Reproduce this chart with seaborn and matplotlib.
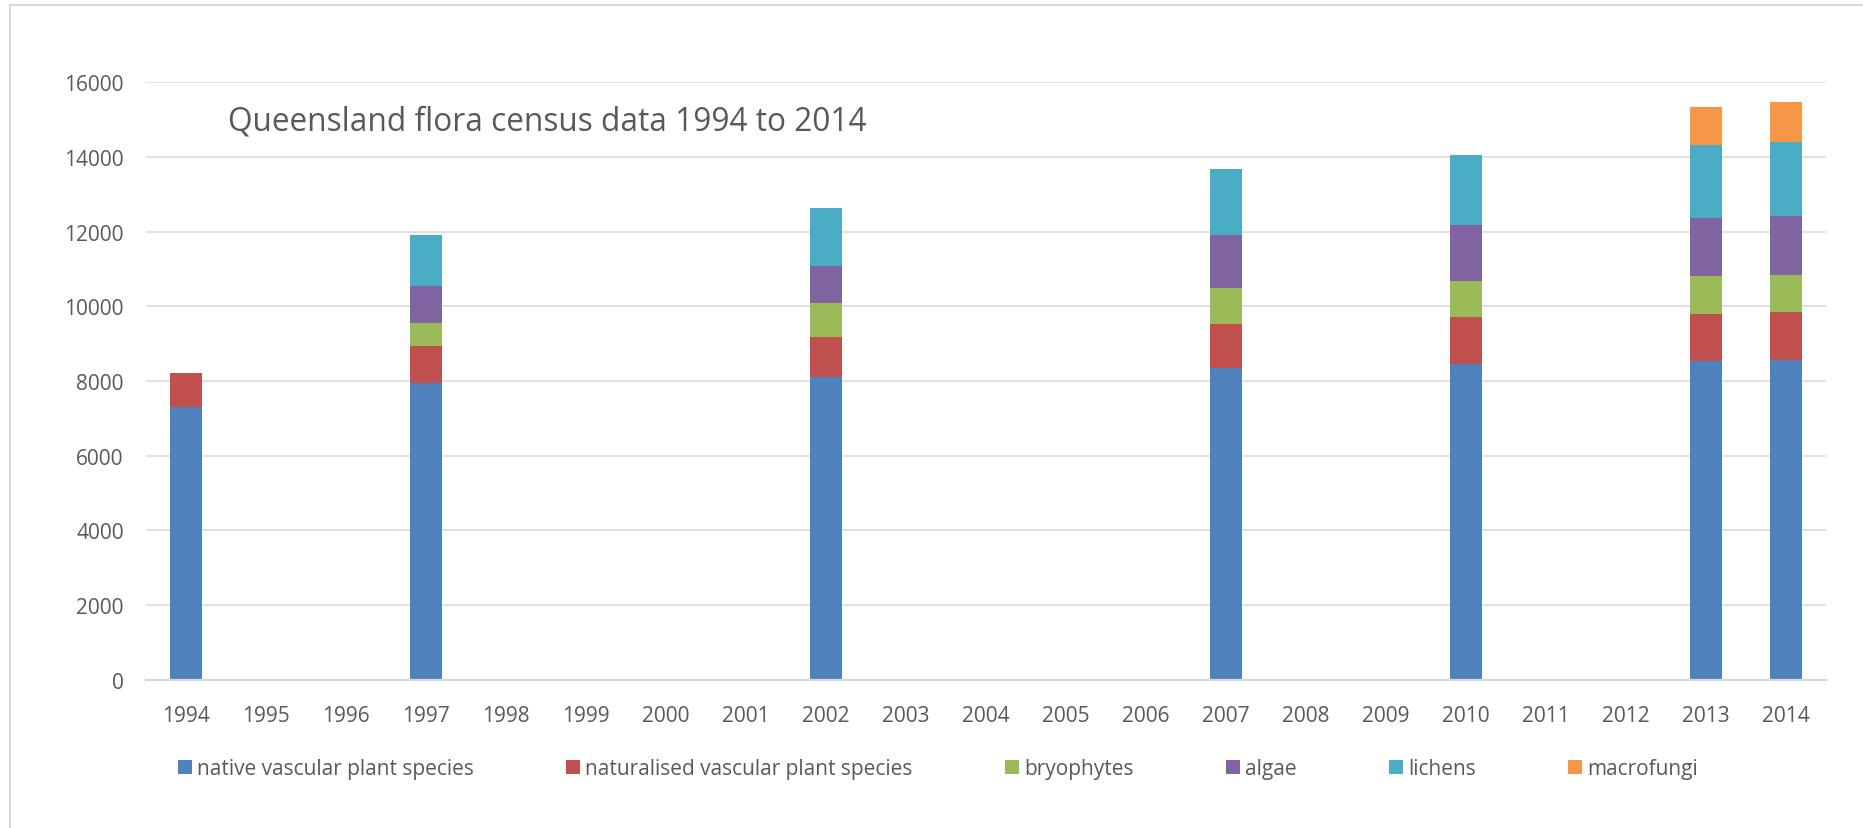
import matplotlib
matplotlib.use("Agg")
import matplotlib.pyplot as plt
from matplotlib.lines import Line2D
from matplotlib.patches import Patch
import numpy as np
import pandas as pd
import seaborn as sns

# census values (number of species)
all_years = [str(y) for y in range(1994, 2015)]
census_years = ["1994", "1997", "2002", "2007", "2010", "2013", "2014"]
native = [7300, 7940, 8100, 8345, 8450, 8530, 8570]
naturalised = [920, 1010, 1090, 1185, 1260, 1260, 1275]
bryophytes = [0, 610, 895, 970, 970, 1020, 1000]
algae = [0, 990, 1005, 1420, 1500, 1550, 1570]
lichens = [0, 1370, 1545, 1750, 1880, 1955, 1980]
macrofungi = [0, 0, 0, 0, 0, 1035, 1080]

groups = [
    "native vascular plant species",
    "naturalised vascular plant species",
    "bryophytes",
    "algae",
    "lichens",
    "macrofungi",
]
colors = ["#4F81BD", "#C0504D", "#9BBB59", "#8064A2", "#4BACC6", "#F79646"]
TEXT = "#595959"
GRID = "#D9D9D9"

sns.set_style("white")
plt.rcParams["font.family"] = ["Open Sans", "DejaVu Sans"]

df = pd.DataFrame(
    {
        "year": census_years,
        groups[0]: native,
        groups[1]: naturalised,
        groups[2]: bryophytes,
        groups[3]: algae,
        groups[4]: lichens,
        groups[5]: macrofungi,
    }
)
cum = df[groups].cumsum(axis=1)
cum["year"] = df["year"]

fig = plt.figure(figsize=(18.63, 8.29), dpi=100)
ax = fig.add_axes([146 / 1863, 1 - 680.7 / 829, 1680 / 1863, (680.7 - 83.3) / 829])

# stacked look: draw cumulative totals from top layer down
for name, col in reversed(list(zip(groups, colors))):
    sns.barplot(data=cum, x="year", y=name, order=all_years, color=col,
                width=0.4, errorbar=None, linewidth=0, saturation=1, ax=ax)

ax.set_ylim(0, 16000)
ax.set_xlim(-0.5, 20.5)
ax.set_yticks(np.arange(0, 16001, 2000))
ax.set_xlabel("")
ax.set_ylabel("")
ax.yaxis.grid(True, color=GRID, linewidth=1.1)
ax.set_axisbelow(True)
for s in ["left", "right", "top"]:
    ax.spines[s].set_visible(False)
ax.spines["bottom"].set_color(GRID)
ax.spines["bottom"].set_linewidth(1.6)
ax.tick_params(axis="y", length=0, pad=16, labelsize=15, labelcolor=TEXT)
ax.tick_params(axis="x", length=0, pad=18, labelsize=15, labelcolor=TEXT)

fig.text(228 / 1863, 1 - 131 / 829, "Queensland flora census data 1994 to 2014",
         fontsize=22.8, color=TEXT, va="baseline", ha="left")

handles = [Patch(facecolor=c, edgecolor="none") for c in colors]
fig.legend(handles, groups, loc="center left", bbox_to_anchor=(178 / 1863, 1 - 770 / 829),
           ncol=6, frameon=False, fontsize=15, labelcolor=TEXT,
           handlelength=0.65, handleheight=0.65, handletextpad=0.25,
           columnspacing=4.45, borderaxespad=0, borderpad=0)

# chart frame edges visible in the screenshot (top and left)
fig.add_artist(Line2D([10 / 1863, 1], [1 - 6 / 829, 1 - 6 / 829],
                      transform=fig.transFigure, color=GRID, linewidth=1.5))
fig.add_artist(Line2D([10 / 1863, 10 / 1863], [0, 1 - 6 / 829],
                      transform=fig.transFigure, color=GRID, linewidth=1.5))

fig.savefig("out.png", dpi=100, facecolor="white")
